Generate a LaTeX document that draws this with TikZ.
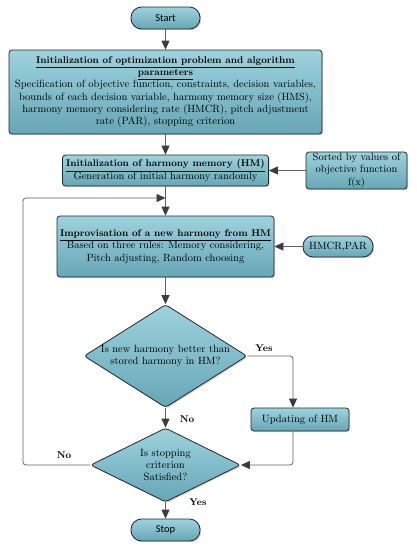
\documentclass[tikz,border=0pt]{standalone}
\usepackage{fontspec}
\newfontfamily\carl{Carlito}
\usetikzlibrary{shapes.geometric,arrows.meta,shadows,calc}
\definecolor{boxtop}{RGB}{158,210,221}
\definecolor{boxbot}{RGB}{102,166,182}
\definecolor{linegray}{RGB}{95,95,95}
\definecolor{tipgray}{RGB}{60,60,60}
\newcommand\mytitle[1]{{\fontsize{9.8}{12.3}\selectfont\bfseries\underline{#1}}}
\tikzset{
  box/.style={draw=black!85, line width=0.8pt, rounded corners=3pt,
    top color=boxtop, bottom color=boxbot,
    drop shadow={shadow xshift=1.2pt, shadow yshift=-1.2pt, opacity=0.35},
    align=center, inner sep=1pt, font=\fontsize{10.5}{12.3}\selectfont},
  term/.style={box, rounded corners=10.5pt, font=\carl\fontsize{10.5}{12}\selectfont},
  dia/.style={box, shape=diamond, inner sep=-16pt, aspect=1.6, rounded corners=3pt},
  conn/.style={draw=linegray, line width=0.8pt, rounded corners=3pt,
    -{Triangle[length=9pt,width=8pt,fill=tipgray,color=tipgray]}},
  lbl/.style={font=\bfseries\fontsize{9.8}{12}\selectfont, inner sep=0pt}
}
\begin{document}
\begin{tikzpicture}[x=1pt,y=-1pt]
\useasboundingbox (0,0) rectangle (416,550);
\node[term, minimum width=69pt, minimum height=22pt] (start) at (165.5,18) {Start};
\node[box, minimum width=313pt, minimum height=84pt] (init1) at (165.5,92)
 {\mytitle{Initialization of optimization problem and algorithm}\\
  \mytitle{parameters}\\
  Specification of objective function, constraints, decision variables,\\
  bounds of each decision variable, harmony memory size (HMS),\\
  harmony memory considering rate (HMCR), pitch adjustment\\
  rate (PAR), stopping criterion};
\node[box, minimum width=206pt, minimum height=31pt] (init2) at (165.5,170.5)
 {\mytitle{Initialization of harmony memory (HM)}\\
  Generation of initial harmony randomly};
\node[box, minimum width=101pt, minimum height=37pt] (sorted) at (356.5,170.5)
 {Sorted by values of\\ objective function\\ f(x)};
\node[box, minimum width=217pt, minimum height=61pt] (improv) at (165.5,246.5)
 {\mytitle{Improvisation of a new harmony from HM}\\
  Based on three rules: Memory considering,\\
  Pitch adjusting, Random choosing};
\node[box, rounded corners=10pt, minimum width=70pt, minimum height=21pt] (hmcr) at (338,246.5) {HMCR,PAR};
\node[dia, minimum width=163pt, minimum height=103pt] (d1) at (165.5,356)
 {Is new harmony better than\\ stored harmony in HM?};
\node[box, minimum width=98pt, minimum height=23pt] (upd) at (300,419.5) {Updating of HM};
\node[dia, minimum width=150pt, minimum height=74pt] (d2) at (165.5,465)
 {Is stopping\\ criterion\\ Satisfied?};
\node[term, minimum width=69pt, minimum height=22pt] (stop) at (165.5,530) {Stop};

\coordinate (ux) at (293,0);
\coordinate (lx) at (23,198);

\draw[conn] (start) -- (init1);
\draw[conn] (init1) -- (init2);
\draw[conn] (sorted) -- (init2);
\draw[conn] (init2) -- (improv);
\draw[conn] (hmcr) -- (improv);
\draw[conn] (improv) -- (d1);
\draw[conn] (d1.east) -| (ux |- upd.north);
\draw[conn] (ux |- upd.south) |- (d2.east);
\draw[conn] (d1.south) -- (d2.north);
\draw[conn] (d2.south) -- (stop.north);
\draw[conn] (d2.west) -| (lx) -- (lx -| improv.north);

\node[lbl] (yes1) at (264,348) {Yes};
\node[lbl] (no1) at (187,419) {No};
\node[lbl] (no2) at (64,455) {No};
\node[lbl] (yes2) at (198,502) {Yes};
\end{tikzpicture}
\end{document}
